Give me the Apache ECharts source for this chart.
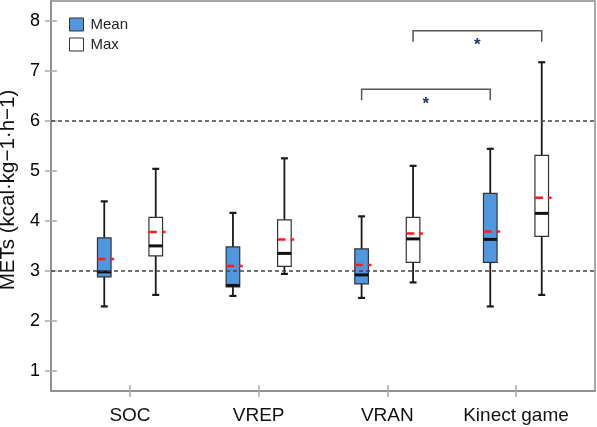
<!DOCTYPE html>
<html>
<head>
<meta charset="utf-8">
<script src="https://cdn.jsdelivr.net/npm/echarts@6/dist/echarts.min.js"></script>
<style>html,body{margin:0;padding:0;background:#fff}#c{width:597px;height:427px}</style>
</head>
<body>
<div id="c"></div>
<script>
const categories = ['SOC', 'VREP', 'VRAN', 'Kinect game'];
// [low whisker, Q1, median, Q3, high whisker]
const meanBoxes = [
  [2.29, 2.88, 2.98, 3.66, 4.39],
  [2.50, 2.68, 2.71, 3.48, 4.16],
  [2.46, 2.74, 2.92, 3.44, 4.09],
  [2.29, 3.17, 3.63, 4.55, 5.44]
];
const meanAverages = [3.24, 3.10, 3.12, 3.79];
const maxBoxes = [
  [2.52, 3.30, 3.50, 4.07, 5.04],
  [2.94, 3.09, 3.35, 4.02, 5.25],
  [2.77, 3.17, 3.64, 4.07, 5.10],
  [2.52, 3.69, 4.15, 5.31, 7.17]
];
const maxAverages = [3.78, 3.63, 3.75, 4.46];
const yTicks = [1, 2, 3, 4, 5, 6, 7, 8];
const refLines = [3, 6];
// significance brackets: from category/series to category/series at height y
const brackets = [
  { fromCat: 2, fromSeries: 'Mean', toCat: 3, toSeries: 'Mean', y: 6.63, label: '*' },
  { fromCat: 2, fromSeries: 'Max', toCat: 3, toSeries: 'Max', y: 7.80, label: '*' }
];

const OFFSET = { Mean: -0.2, Max: 0.2 };
const FONT = "'Liberation Sans', Arial, sans-serif";
const catPos = categories.map((c, i) => i + 1);

function buildData(boxes, avgs) {
  return categories.map((c, i) => [catPos[i]].concat(boxes[i]).concat([avgs[i]]));
}

function makeRender(fill, offset) {
  return function (params, api) {
    const xv = api.value(0) + offset;
    const lo = api.coord([xv, api.value(1)]);
    const q1 = api.coord([xv, api.value(2)]);
    const md = api.coord([xv, api.value(3)]);
    const q3 = api.coord([xv, api.value(4)]);
    const hi = api.coord([xv, api.value(5)]);
    const mn = api.coord([xv, api.value(6)]);
    const cx = lo[0];
    const hw = 6.8, cw = 3.5;
    const wStyle = { stroke: '#1a1a1a', lineWidth: 1.8 };
    return {
      type: 'group',
      children: [
        { type: 'line', shape: { x1: cx, y1: hi[1], x2: cx, y2: q3[1] }, style: wStyle },
        { type: 'line', shape: { x1: cx, y1: q1[1], x2: cx, y2: lo[1] }, style: wStyle },
        { type: 'line', shape: { x1: cx - cw, y1: hi[1], x2: cx + cw, y2: hi[1] }, style: { stroke: '#1a1a1a', lineWidth: 2.2 } },
        { type: 'line', shape: { x1: cx - cw, y1: lo[1], x2: cx + cw, y2: lo[1] }, style: { stroke: '#1a1a1a', lineWidth: 2.2 } },
        { type: 'rect', shape: { x: cx - hw, y: q3[1], width: 2 * hw, height: q1[1] - q3[1] }, style: { fill: fill, stroke: '#333', lineWidth: 1.2 } },
        { type: 'line', shape: { x1: cx - hw, y1: md[1], x2: cx + hw, y2: md[1] }, style: { stroke: '#111', lineWidth: 3 } },
        { type: 'line', shape: { x1: cx - hw, y1: mn[1], x2: cx + hw + 3, y2: mn[1] }, style: { stroke: '#ff1a1a', lineWidth: 2.5, lineDash: [8, 5] } }
      ]
    };
  };
}

const bracketData = brackets.map(b => [b.fromCat + 1 + OFFSET[b.fromSeries], b.toCat + 1 + OFFSET[b.toSeries], b.y]);

const chart = echarts.init(document.getElementById('c'), null, { renderer: 'canvas' });
const tickColor = '#aaaaaa';
chart.setOption({
  animation: false,
  backgroundColor: '#fff',
  textStyle: { fontFamily: FONT },
  grid: { left: 51, top: 1, right: 2, bottom: 36, show: true, borderColor: '#8a8a8a', borderWidth: 1.5, containLabel: false, outerBoundsMode: 'none' },
  legend: {
    orient: 'vertical', left: 69, top: 17, padding: 0, itemWidth: 14, itemHeight: 13, itemGap: 5,
    textStyle: { fontSize: 15, color: '#222', fontFamily: FONT, padding: [0, 0, 0, 2] },
    data: [
      { name: 'Mean', icon: 'rect', itemStyle: { color: '#5197E0', borderColor: '#333', borderWidth: 1 } },
      { name: 'Max', icon: 'rect', itemStyle: { color: '#fff', borderColor: '#333', borderWidth: 1 } }
    ]
  },
  xAxis: [
    {
      type: 'value', min: 0.386, max: 4.614,
      axisLine: { show: true, lineStyle: { color: '#8a8a8a', width: 1.5 } },
      axisTick: { show: true, customValues: catPos, length: 6, lineStyle: { color: tickColor, width: 1.5 } },
      axisLabel: { customValues: catPos, margin: 15, fontSize: 19, color: '#111', fontFamily: FONT, formatter: v => categories[Math.round(v) - 1] },
      splitLine: { show: false }
    },
    {
      type: 'value', min: 0.386, max: 4.614, position: 'bottom',
      axisLine: { show: false },
      axisTick: { show: true, inside: true, customValues: catPos, length: 6, lineStyle: { color: tickColor, width: 1.5 } },
      axisLabel: { show: false },
      splitLine: { show: false }
    }
  ],
  yAxis: [
    {
      type: 'value', min: 0.6, max: 8.394,
      name: 'METs (kcal·kg−1·h−1)', nameLocation: 'middle', nameRotate: 90, nameGap: 28,
      nameTextStyle: { fontSize: 20.5, color: '#111', fontFamily: FONT, padding: [0, 0, 0, 12] },
      axisLine: { show: true, lineStyle: { color: '#8a8a8a', width: 1.5 } },
      axisTick: { show: true, customValues: yTicks, length: 6, lineStyle: { color: tickColor, width: 1.5 } },
      axisLabel: { customValues: yTicks, margin: 11, fontSize: 18, color: '#000', fontFamily: FONT },
      splitLine: { show: false }
    },
    {
      type: 'value', min: 0.6, max: 8.394, position: 'left',
      axisLine: { show: false },
      axisTick: { show: true, inside: true, customValues: yTicks, length: 6, lineStyle: { color: tickColor, width: 1.5 } },
      axisLabel: { show: false },
      splitLine: { show: false }
    }
  ],
  series: [
    {
      name: 'Mean', type: 'custom', xAxisIndex: 0, yAxisIndex: 0,
      itemStyle: { color: '#5197E0', borderColor: '#333' },
      renderItem: makeRender('#5197E0', OFFSET.Mean),
      encode: { x: 0, y: [1, 5] },
      data: buildData(meanBoxes, meanAverages),
      markLine: {
        silent: true, symbol: 'none', label: { show: false },
        lineStyle: { type: [4, 3], color: '#444', width: 1.5 },
        data: refLines.map(v => ({ yAxis: v }))
      }
    },
    {
      name: 'Max', type: 'custom', xAxisIndex: 0, yAxisIndex: 0,
      itemStyle: { color: '#fff', borderColor: '#333' },
      renderItem: makeRender('#fff', OFFSET.Max),
      encode: { x: 0, y: [1, 5] },
      data: buildData(maxBoxes, maxAverages)
    },
    {
      name: 'brackets', type: 'custom', xAxisIndex: 0, yAxisIndex: 0,
      renderItem: function (params, api) {
        const a = api.coord([api.value(0), api.value(2)]);
        const b = api.coord([api.value(1), api.value(2)]);
        const drop = 11;
        return {
          type: 'group',
          children: [
            { type: 'polyline', shape: { points: [[a[0], a[1] + drop], a, b, [b[0], b[1] + drop]] }, style: { stroke: '#555', lineWidth: 1.5, fill: null } },
            { type: 'text', style: { x: (a[0] + b[0]) / 2, y: a[1] + 15, text: '*', fontSize: 17, fontWeight: 'bold', fill: '#1F3864', align: 'center', verticalAlign: 'middle', fontFamily: FONT } }
          ]
        };
      },
      encode: { x: [0, 1], y: 2 },
      data: bracketData
    }
  ]
});
</script>
</body>
</html>
